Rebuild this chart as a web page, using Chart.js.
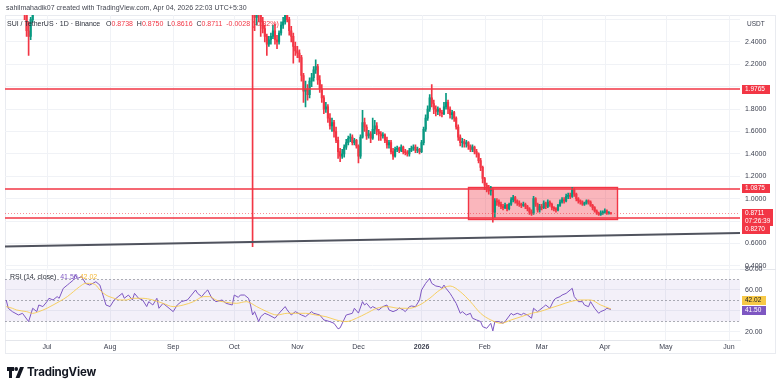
<!DOCTYPE html>
<html><head><meta charset="utf-8">
<script src="https://cdn.jsdelivr.net/npm/chart.js@4.4.1/dist/chart.umd.min.js"></script>
<style>
html,body{margin:0;padding:0;background:#fff}
body{width:783px;height:388px;position:relative;overflow:hidden;font-family:"Liberation Sans",Arial,sans-serif}
canvas{position:absolute;left:0}
#c1{top:0}#c2{top:255px}
.t{position:absolute;white-space:nowrap;font-size:7px;line-height:8px;color:#434651}
.r{color:#F23645}
.frame{position:absolute;left:5px;top:15px;width:771px;height:339px;border:1px solid #e9ebf0;box-sizing:border-box;pointer-events:none}
.sep{position:absolute;left:5px;top:269px;width:771px;height:1px;background:#e4e6eb}
.logo{position:absolute;left:7px;top:365px;display:flex;align-items:center;gap:3px;font-family:Inter,"Liberation Sans",sans-serif;font-weight:700;font-size:11.5px;color:#131722;letter-spacing:-0.2px}
</style></head><body>
<div class="frame"></div>
<div class="sep"></div>
<canvas id="c1" width="783" height="278" style="width:783px;height:278px"></canvas>
<canvas id="c2" width="783" height="100" style="width:783px;height:100px"></canvas>
<div class="t" style="left:6px;top:4px">sahilmahadik07 created with TradingView.com, Apr 04, 2026 22:03 UTC+5:30</div>
<div class="t" style="left:7px;top:20px;color:#2a2e39">SUI / TetherUS · 1D · Binance&nbsp;&nbsp; O<span class="r">0.8738</span>&nbsp; H<span class="r">0.8750</span>&nbsp; L<span class="r">0.8616</span>&nbsp; C<span class="r">0.8711</span>&nbsp;&nbsp;<span class="r">-0.0028 (-0.32%)</span></div>
<div class="t" style="left:10px;top:273px;color:#2a2e39">RSI (14, close)&nbsp; <span style="color:#7E57C2">41.50</span>&nbsp;<span style="color:#F5B93A">42.02</span></div>
<div class="logo"><svg width="17" height="11" viewBox="0 0 17 11"><path d="M0 0h7v4H5v7H2V4H0z" fill="#131722"/><circle cx="9.2" cy="2" r="1.9" fill="#131722"/><path d="M13 0h4l-4.5 11H8.6z" fill="#131722"/></svg><span>TradingView</span></div>
<script>
// ---------------- DATA ----------------
const firstDate = '2025-06-10';
const firstOpen = 3.26;
const close = [
 3.22,3.18,3.05,2.98,3.00,3.02,3.06,2.92,2.88,2.84,2.66,2.50,2.45,2.60,2.75,2.80,2.76,2.78,2.80,2.84,2.86,
 2.90,2.95,2.98,2.90,2.92,2.95,2.98,3.05,3.20,3.40,3.45,3.48,3.60,3.85,4.00,3.95,4.05,3.95,3.90,3.85,3.95,4.00,3.90,4.00,4.05,3.98,4.10,3.95,3.75,3.60,3.55,
 3.50,3.45,3.55,3.65,3.70,3.75,3.65,3.75,3.70,3.80,3.75,3.85,3.90,3.80,3.78,3.75,3.70,3.60,3.65,3.55,3.60,3.70,3.55,3.60,3.45,3.50,3.45,3.42,3.38,3.35,3.30,
 3.25,3.30,3.35,3.38,3.40,3.42,3.48,3.55,3.62,3.70,3.65,3.62,3.68,3.70,3.62,3.58,3.55,3.50,3.45,3.42,3.40,3.35,3.30,3.32,3.25,3.28,3.25,3.20,3.25,3.20,
 3.35,3.40,3.42,3.45,3.48,3.50,3.45,3.42,3.40,
 2.72,2.62,2.70,2.66,2.58,2.52,2.45,2.38,2.42,2.45,2.50,2.42,2.40,2.48,2.55,2.58,2.64,2.60,2.50,2.45,2.36,2.32,
 2.30,2.26,2.10,1.96,1.98,1.93,2.05,2.08,2.15,2.18,2.06,1.98,1.90,1.80,1.82,1.72,1.65,1.68,1.60,1.52,1.42,1.38,1.40,1.46,1.50,1.54,1.55,1.50,1.52,1.47,
 1.38,1.55,1.68,1.64,1.56,1.58,1.54,1.62,1.65,1.60,1.58,1.56,1.57,1.52,1.48,1.50,1.42,1.38,1.44,1.45,1.43,1.46,1.42,1.41,1.40,1.43,1.45,1.46,1.43,1.44,1.42,
 1.50,1.62,1.72,1.80,1.90,1.85,1.80,1.78,1.80,1.77,1.76,1.82,1.86,1.80,1.75,1.77,1.72,1.64,1.55,1.50,1.51,1.49,1.50,1.47,1.44,1.46,1.42,1.40,1.34,1.28,1.18,
 1.12,1.10,1.07,1.08,0.88,0.98,0.97,0.95,0.93,0.92,0.94,0.91,0.95,0.99,1.01,0.98,0.96,0.95,0.94,0.95,0.93,0.91,0.88,0.87,1.00,0.95,0.90,0.93,
 0.92,0.96,0.93,0.97,0.95,0.92,0.91,0.90,0.94,0.97,0.99,0.98,1.02,1.03,1.02,1.08,1.04,1.00,0.98,0.97,0.95,0.96,0.98,0.97,0.94,0.92,0.89,0.87,0.86,0.87,0.88,
 0.89,0.87,0.8738,0.8711
];
const high = [
 3.30,3.26,3.20,3.08,3.05,3.07,3.10,3.08,2.96,2.92,2.86,2.70,2.58,2.62,2.78,2.85,2.83,2.82,2.84,2.88,2.90,
 2.93,2.98,3.02,3.00,2.96,2.98,3.02,3.08,3.25,3.45,3.52,3.55,3.66,3.90,4.10,4.08,4.12,4.10,4.00,3.95,4.00,4.08,4.05,4.05,4.12,4.10,4.15,4.15,3.98,3.80,3.65,
 3.62,3.56,3.60,3.70,3.76,3.80,3.80,3.80,3.80,3.86,3.85,3.90,3.98,3.95,3.85,3.82,3.78,3.72,3.70,3.68,3.65,3.75,3.72,3.66,3.62,3.55,3.55,3.50,3.46,3.42,3.40,
 3.35,3.34,3.40,3.42,3.45,3.47,3.52,3.60,3.68,3.75,3.74,3.70,3.72,3.76,3.74,3.66,3.62,3.58,3.54,3.50,3.46,3.44,3.40,3.38,3.36,3.33,3.32,3.28,3.30,3.30,
 3.40,3.45,3.48,3.52,3.55,3.58,3.56,3.50,3.48,
 3.48,2.82,2.76,2.75,2.68,2.62,2.55,2.47,2.45,2.48,2.55,2.56,2.46,2.50,2.58,2.62,2.68,2.72,2.62,2.54,2.48,2.40,
 2.36,2.33,2.28,2.12,2.05,2.02,2.08,2.12,2.18,2.24,2.20,2.10,2.02,1.92,1.86,1.84,1.76,1.72,1.70,1.64,1.55,1.45,1.44,1.48,1.53,1.56,1.58,1.57,1.54,1.53,
 1.48,1.57,1.79,1.72,1.66,1.61,1.60,1.72,1.70,1.68,1.62,1.60,1.59,1.58,1.55,1.52,1.52,1.45,1.46,1.47,1.46,1.48,1.47,1.44,1.43,1.45,1.47,1.48,1.48,1.46,1.45,
 1.52,1.64,1.75,1.83,1.93,2.02,1.88,1.83,1.82,1.81,1.79,1.86,1.94,1.88,1.82,1.79,1.78,1.73,1.66,1.57,1.54,1.53,1.52,1.51,1.48,1.48,1.47,1.44,1.41,1.36,1.29,
 1.19,1.14,1.12,1.11,1.09,1.00,1.00,0.99,0.97,0.95,0.96,0.95,0.96,1.01,1.03,1.02,0.99,0.98,0.96,0.97,0.96,0.94,0.92,0.90,1.02,1.01,0.96,0.95,
 0.95,0.98,0.97,0.99,0.98,0.96,0.93,0.92,0.95,0.99,1.01,1.01,1.04,1.05,1.05,1.10,1.09,1.05,1.01,0.99,0.98,0.97,0.99,0.99,0.98,0.95,0.93,0.90,0.88,0.89,0.89,
 0.91,0.90,0.885,0.875
];
const low = [
 3.15,3.12,3.00,2.92,2.94,2.96,2.98,2.88,2.84,2.80,2.60,2.45,2.28,2.42,2.58,2.72,2.72,2.72,2.74,2.77,2.80,
 2.82,2.86,2.90,2.86,2.86,2.88,2.92,2.94,3.02,3.18,3.36,3.40,3.45,3.58,3.80,3.88,3.90,3.88,3.82,3.78,3.80,3.90,3.85,3.86,3.95,3.92,3.95,3.90,3.70,3.55,3.45,
 3.42,3.38,3.40,3.50,3.60,3.66,3.60,3.62,3.65,3.66,3.70,3.72,3.82,3.75,3.72,3.70,3.64,3.55,3.56,3.50,3.52,3.56,3.50,3.52,3.40,3.42,3.40,3.36,3.32,3.30,3.25,
 3.18,3.20,3.26,3.30,3.34,3.36,3.40,3.45,3.52,3.58,3.60,3.56,3.58,3.64,3.58,3.52,3.50,3.45,3.40,3.36,3.35,3.30,3.25,3.26,3.20,3.22,3.20,3.14,3.16,3.15,
 3.18,3.30,3.35,3.38,3.40,3.42,3.38,3.35,3.32,
 0.57,2.50,2.55,2.58,2.45,2.48,2.40,2.28,2.36,2.38,2.43,2.38,2.34,2.38,2.46,2.52,2.56,2.58,2.46,2.40,2.21,2.28,
 2.26,2.22,2.05,1.86,1.82,1.88,1.90,2.00,2.05,2.12,2.02,1.95,1.86,1.76,1.77,1.68,1.62,1.60,1.55,1.50,1.36,1.33,1.36,1.37,1.44,1.48,1.51,1.48,1.48,1.45,
 1.32,1.36,1.54,1.60,1.53,1.54,1.50,1.53,1.58,1.57,1.52,1.52,1.54,1.50,1.45,1.45,1.40,1.35,1.37,1.42,1.41,1.42,1.40,1.39,1.38,1.38,1.42,1.43,1.41,1.41,1.40,
 1.41,1.48,1.60,1.70,1.78,1.82,1.76,1.74,1.75,1.74,1.73,1.75,1.80,1.76,1.72,1.71,1.69,1.62,1.52,1.47,1.46,1.46,1.46,1.44,1.42,1.42,1.40,1.37,1.32,1.25,1.14,
 1.08,1.06,1.04,1.03,0.79,0.83,0.94,0.93,0.91,0.90,0.91,0.89,0.90,0.94,0.97,0.96,0.94,0.93,0.92,0.93,0.91,0.89,0.86,0.85,0.86,0.93,0.88,0.88,
 0.90,0.91,0.91,0.92,0.93,0.90,0.89,0.88,0.89,0.93,0.96,0.96,0.97,1.00,1.00,1.01,1.02,0.98,0.96,0.95,0.94,0.94,0.95,0.95,0.93,0.90,0.88,0.86,0.85,0.85,0.86,
 0.87,0.86,0.862,0.8616
];

const rsiDate = ['2025-06-11','2025-06-12','2025-06-14','2025-06-17','2025-06-19','2025-06-22','2025-06-23','2025-06-24','2025-06-26','2025-06-27','2025-06-29',
 '2025-07-01','2025-07-02','2025-07-04','2025-07-06','2025-07-07','2025-07-09','2025-07-11','2025-07-12','2025-07-14','2025-07-15','2025-07-16','2025-07-18','2025-07-20','2025-07-22','2025-07-25','2025-07-27','2025-07-29','2025-07-30',
 '2025-08-01','2025-08-03','2025-08-05','2025-08-07','2025-08-08','2025-08-10','2025-08-12','2025-08-13','2025-08-15','2025-08-17','2025-08-19','2025-08-20','2025-08-22','2025-08-24','2025-08-25','2025-08-27','2025-08-29','2025-08-30',
 '2025-09-01','2025-09-03','2025-09-05','2025-09-08','2025-09-10','2025-09-12','2025-09-13','2025-09-15','2025-09-17','2025-09-18','2025-09-20','2025-09-22','2025-09-25','2025-09-27','2025-09-30',
 '2025-10-01','2025-10-03','2025-10-04','2025-10-06','2025-10-08','2025-10-09','2025-10-10','2025-10-11','2025-10-13','2025-10-14','2025-10-16','2025-10-18','2025-10-21','2025-10-23','2025-10-26','2025-10-27','2025-10-29','2025-10-31',
 '2025-11-03','2025-11-05','2025-11-08','2025-11-09','2025-11-12','2025-11-14','2025-11-17','2025-11-19','2025-11-21','2025-11-22','2025-11-25','2025-11-28','2025-11-29',
 '2025-12-01','2025-12-03','2025-12-04','2025-12-05','2025-12-07','2025-12-08','2025-12-11','2025-12-13','2025-12-15','2025-12-16','2025-12-18','2025-12-20','2025-12-21','2025-12-23','2025-12-24','2025-12-26','2025-12-27','2025-12-29','2025-12-31',
 '2026-01-01','2026-01-03','2026-01-05','2026-01-06','2026-01-08','2026-01-10','2026-01-11','2026-01-12','2026-01-13','2026-01-15','2026-01-16','2026-01-18','2026-01-20','2026-01-21','2026-01-23','2026-01-25','2026-01-26','2026-01-28','2026-01-30','2026-01-31',
 '2026-02-02','2026-02-04','2026-02-05','2026-02-06','2026-02-08','2026-02-10','2026-02-11','2026-02-14','2026-02-15','2026-02-17','2026-02-19','2026-02-20','2026-02-22','2026-02-24','2026-02-25','2026-02-27','2026-02-28',
 '2026-03-02','2026-03-03','2026-03-05','2026-03-07','2026-03-08','2026-03-10','2026-03-11','2026-03-13','2026-03-15','2026-03-16','2026-03-17','2026-03-19','2026-03-21','2026-03-22','2026-03-24','2026-03-25','2026-03-27','2026-03-29','2026-03-30',
 '2026-04-01','2026-04-02','2026-04-04'];
const rsiValue = [50.5,42.6,39.4,36.2,37.8,29.9,36.2,42.6,39.4,45.7,44.2,
 48.9,52.1,50.5,53.7,52.1,61.5,64.7,66.3,69.5,74.3,71.0,72.7,66.3,64.7,67.9,64.7,52.1,45.7,
 44.2,50.5,53.7,56.8,52.1,55.2,50.5,56.8,52.1,50.5,44.2,48.9,45.7,52.1,42.6,47.3,44.2,42.6,
 39.4,45.7,48.9,50.5,55.2,60.0,56.8,53.7,58.4,60.0,52.1,48.9,50.5,47.3,45.7,
 55.2,53.0,55.2,55.2,52.1,45.7,36.2,39.4,29.9,34.6,37.8,36.2,33.1,37.8,44.2,41.0,36.2,39.4,
 36.2,34.6,39.4,37.8,36.2,31.5,29.9,28.3,23.0,24.0,36.2,37.8,42.6,
 38.0,48.9,45.7,47.3,42.6,44.2,41.0,44.2,45.7,41.0,39.4,41.0,43.0,41.0,39.4,44.1,44.8,44.1,50.5,
 60.0,66.3,71.1,66.3,63.8,63.1,61.6,64.7,61.6,56.8,53.7,47.3,37.8,39.4,36.2,37.8,33.1,31.5,29.9,25.1,
 23.5,28.3,21.0,29.9,29.9,28.3,29.9,37.8,36.2,37.8,36.2,37.8,36.2,33.1,42.6,39.4,41.0,
 44.1,45.7,42.6,50.5,52.1,53.7,55.2,56.8,60.0,61.6,53.7,48.9,48.9,45.7,44.1,48.9,42.6,37.8,39.4,
 41.0,42.6,41.5];

const maDate = ['2025-06-11','2025-06-14','2025-06-16','2025-06-21','2025-06-24','2025-06-27','2025-07-01','2025-07-04','2025-07-07','2025-07-11','2025-07-14','2025-07-17','2025-07-20','2025-07-22','2025-07-25','2025-07-27','2025-07-30',
 '2025-08-03','2025-08-06','2025-08-09','2025-08-12','2025-08-17','2025-08-22','2025-08-27','2025-09-01','2025-09-06','2025-09-11','2025-09-16','2025-09-19','2025-09-22','2025-09-27',
 '2025-10-02','2025-10-07','2025-10-12','2025-10-17','2025-10-22','2025-10-27','2025-10-31','2025-11-05','2025-11-10','2025-11-15','2025-11-20','2025-11-25','2025-11-30',
 '2025-12-05','2025-12-10','2025-12-15','2025-12-21','2025-12-26','2025-12-31','2026-01-05','2026-01-10','2026-01-15','2026-01-20','2026-01-25','2026-01-30',
 '2026-02-04','2026-02-09','2026-02-14','2026-02-19','2026-02-24','2026-02-28','2026-03-05','2026-03-10','2026-03-15','2026-03-20','2026-03-25','2026-03-30','2026-04-04'];
const maValue = [44.2,42.6,41.0,39.4,37.8,39.4,42.6,45.7,48.9,53.7,58.4,63.1,66.3,66.3,64.7,60.0,55.2,
 52.1,50.5,50.5,52.1,52.1,50.5,47.3,44.2,45.7,48.9,53.7,53.7,50.5,48.3,
 47.3,48.9,44.2,39.4,36.2,37.8,37.8,37.8,36.2,34.6,31.5,29.9,33.1,
 37.8,42.6,44.2,42.6,42.6,45.7,52.1,60.0,63.8,58.4,48.9,37.8,
 31.5,28.3,31.5,34.6,37.8,39.4,42.6,45.7,48.9,50.5,50.5,45.7,42.02];

const monthTicks = ['2025-07-01','2025-08-01','2025-09-01','2025-10-01','2025-11-01','2025-12-01','2026-01-01','2026-02-01','2026-03-01','2026-04-01','2026-05-01','2026-06-01'];
const monthNames = ['Jul','Aug','Sep','Oct','Nov','Dec','2026','Feb','Mar','Apr','May','Jun'];
const priceTicks = [0.4,0.6,0.8,1.0,1.2,1.4,1.6,1.8,2.0,2.2,2.4,2.6];
const hiddenPriceLabels = [0.8,2.0,2.6];
const rsiTicks = [20,40,60,80];
const levels = [1.9765, 1.0875, 0.8270];
const lastPrice = 0.8711;
const countdown = '07:26:39';
const lastRsi = 41.50, lastMa = 42.02;
const zone = {from:'2026-01-24', to:'2026-04-07', top:1.10, bottom:0.822};
const trend = {from:['2025-06-10',0.572], to:['2026-06-06',0.693]};
const viewFrom = '2025-06-10', viewTo = '2026-06-06';
const priceMin = 0.373, priceMax = 2.641, rsiMin = 12.38, rsiMax = 80;

// ---------------- HELPERS ----------------
const DAY0 = Date.UTC(2025,6,1);
function dayOf(s){const [y,m,d]=s.split('-').map(Number);return (Date.UTC(y,m-1,d)-DAY0)/86400000;}
if (close.length!==high.length || close.length!==low.length) throw new Error('len '+close.length+' '+high.length+' '+low.length);
if (rsiDate.length!==rsiValue.length || maDate.length!==maValue.length) throw new Error('rsi len');

const UP='#089981', DOWN='#F23645';
const X_MIN = dayOf(viewFrom)+0.4, X_MAX = dayOf(viewTo)+0.4;
const start = dayOf(firstDate);
const wick=[], body=[], col=[];
for(let i=0;i<close.length;i++){
  const o = i===0?firstOpen:close[i-1], c=close[i];
  let lo=Math.min(o,c), hi=Math.max(o,c);
  if(hi-lo<0.003) hi=lo+0.003;
  wick.push({x:start+i, y:[low[i],high[i]]});
  body.push({x:start+i, y:[lo,hi]});
  col.push(c>=o?UP:DOWN);
}
const FONT='"Liberation Sans", Arial, sans-serif';
const TXT='#3d4150', GRID='#f0f2f6';
const mTickVals = monthTicks.map(dayOf);

function tag(ctx, x0, yc, w, lines, bg, fg){
  const h = 8*lines.length+1;
  ctx.fillStyle=bg; ctx.fillRect(x0, Math.round(yc-4.5), w, h);
  ctx.fillStyle=fg; ctx.font='6.5px '+FONT; ctx.textAlign='left'; ctx.textBaseline='middle';
  lines.forEach((s,i)=>ctx.fillText(s, x0+3, Math.round(yc-4.5)+4.5+i*8));
}

const overlayA = {
  id:'overlayA',
  beforeDatasetsDraw(chart){
    const {ctx, chartArea:a, scales:{x,y}} = chart;
    ctx.save();
    ctx.beginPath(); ctx.rect(a.left,a.top,a.right-a.left,a.bottom-a.top); ctx.clip();
    ctx.strokeStyle=GRID; ctx.lineWidth=1;
    mTickVals.forEach(v=>{const p=Math.round(x.getPixelForValue(v))+.5; ctx.beginPath(); ctx.moveTo(p,a.top); ctx.lineTo(p,a.bottom); ctx.stroke();});
    const x1=Math.round(x.getPixelForValue(dayOf(zone.from))), x2=Math.round(x.getPixelForValue(dayOf(zone.to)));
    const y1=Math.round(y.getPixelForValue(zone.top)), y2=Math.round(y.getPixelForValue(zone.bottom));
    ctx.fillStyle='rgba(242,54,69,0.36)'; ctx.fillRect(x1,y1,x2-x1,y2-y1);
    ctx.strokeStyle='#F23645'; ctx.lineWidth=1.4; ctx.strokeRect(x1+.5,y1+.5,x2-x1,y2-y1);
    ctx.restore();
  },
  afterDatasetsDraw(chart){
    const {ctx, chartArea:a, scales:{x,y}} = chart;
    ctx.save();
    ctx.beginPath(); ctx.rect(a.left,a.top,a.right-a.left,a.bottom-a.top); ctx.clip();
    let yy=Math.round(y.getPixelForValue(lastPrice))+.5;
    ctx.strokeStyle='rgba(242,54,69,0.55)'; ctx.lineWidth=1; ctx.setLineDash([1,2]);
    ctx.beginPath(); ctx.moveTo(a.left,yy); ctx.lineTo(a.right,yy); ctx.stroke();
    ctx.setLineDash([]);
    ctx.strokeStyle='#F23645'; ctx.lineWidth=1.6;
    levels.forEach(v=>{const p=Math.round(y.getPixelForValue(v)); ctx.beginPath(); ctx.moveTo(a.left,p); ctx.lineTo(a.right,p); ctx.stroke();});
    const X0=x.getPixelForValue(dayOf(trend.from[0])), Y0=y.getPixelForValue(trend.from[1]);
    const X1=x.getPixelForValue(dayOf(trend.to[0])), Y1=y.getPixelForValue(trend.to[1]);
    const k=(Y1-Y0)/(X1-X0);
    ctx.strokeStyle='#50535e'; ctx.lineWidth=1.8;
    ctx.beginPath(); ctx.moveTo(a.left, Y0+k*(a.left-X0)); ctx.lineTo(a.right, Y0+k*(a.right-X0)); ctx.stroke();
    ctx.restore();
  },
  afterDraw(chart){
    const {ctx, scales:{y}} = chart;
    ctx.save();
    ctx.fillStyle=TXT; ctx.font='6.5px '+FONT; ctx.textAlign='left'; ctx.textBaseline='middle';
    ctx.fillText('USDT', 747, 24);
    tag(ctx, 742, y.getPixelForValue(levels[0]), 28, [levels[0].toFixed(4)], DOWN, '#fff');
    tag(ctx, 742, y.getPixelForValue(levels[1]), 28, [levels[1].toFixed(4)], DOWN, '#fff');
    tag(ctx, 742, y.getPixelForValue(lastPrice), 31, [lastPrice.toFixed(4), countdown], DOWN, '#fff');
    tag(ctx, 742, y.getPixelForValue(levels[2])+12, 28, [levels[2].toFixed(4)], DOWN, '#fff');
    ctx.restore();
  }
};

const overlayB = {
  id:'overlayB',
  beforeDatasetsDraw(chart){
    const {ctx, chartArea:a, scales:{y}} = chart;
    ctx.save();
    const y70=y.getPixelForValue(70), y30=y.getPixelForValue(30), y50=y.getPixelForValue(50);
    ctx.fillStyle='rgba(126,87,194,0.09)'; ctx.fillRect(a.left,y70,a.right-a.left,y30-y70);
    ctx.strokeStyle='rgba(120,123,134,0.6)'; ctx.lineWidth=1; ctx.setLineDash([2,2]);
    [y70,y50,y30].forEach(p=>{const q=Math.round(p)+.5; ctx.beginPath(); ctx.moveTo(a.left,q); ctx.lineTo(a.right,q); ctx.stroke();});
    ctx.restore();
  },
  afterDraw(chart){
    const {ctx, scales:{y}} = chart;
    ctx.save();
    tag(ctx, 742, y.getPixelForValue(lastMa)-8.4, 24, [lastMa.toFixed(2)], '#F7C948', '#131722');
    tag(ctx, 742, y.getPixelForValue(lastRsi)+0.6, 24, [lastRsi.toFixed(2)], '#7E57C2', '#fff');
    ctx.restore();
  }
};

Chart.defaults.font.family = FONT;

new Chart(document.getElementById('c1'), {
  type:'bar',
  data:{datasets:[
    {data:wick, backgroundColor:col, barThickness:1, grouped:false, borderWidth:0, clip:0},
    {data:body, backgroundColor:col, barThickness:1.5, grouped:false, borderWidth:0, clip:0}
  ]},
  options:{
    responsive:false, maintainAspectRatio:false, animation:false, events:[],
    layout:{padding:{left:5,right:7,top:15,bottom:3}},
    plugins:{legend:{display:false}, tooltip:{enabled:false}},
    scales:{
      x:{type:'linear', min:X_MIN, max:X_MAX, offset:false, display:false},
      y:{type:'linear', position:'right', min:priceMin, max:priceMax, bounds:'data', grace:0, beginAtZero:false,
         afterDataLimits: s => { s.min=priceMin; s.max=priceMax; },
         afterBuildTicks: s => { s.ticks = priceTicks.map(v=>({value:v})); s.min=priceMin; s.max=priceMax; },
         afterFit: s => { s.width=36; },
         ticks:{padding:5, color:TXT, font:{size:7}, callback:v=> hiddenPriceLabels.some(h=>Math.abs(v-h)<1e-6) ? '' : Number(v).toFixed(4)},
         grid:{color:GRID, drawTicks:false}, border:{display:false}}
    }
  },
  plugins:[overlayA]
});

new Chart(document.getElementById('c2'), {
  type:'line',
  data:{datasets:[
    {data:maDate.map((d,i)=>({x:dayOf(d), y:maValue[i]})), borderColor:'rgba(247,201,72,0.85)', borderWidth:1, pointRadius:0, cubicInterpolationMode:'monotone'},
    {data:rsiDate.map((d,i)=>({x:dayOf(d), y:rsiValue[i]})), borderColor:'#7E57C2', borderWidth:1, pointRadius:0, tension:0}
  ]},
  options:{
    responsive:false, maintainAspectRatio:false, animation:false, events:[],
    layout:{padding:{left:5,right:7,top:14,bottom:0}},
    plugins:{legend:{display:false}, tooltip:{enabled:false}},
    scales:{
      x:{type:'linear', min:X_MIN, max:X_MAX, offset:false,
        afterBuildTicks: s => { s.ticks = mTickVals.map(v=>({value:v})); },
        afterFit:s=>{s.height=15;},
        grid:{color:GRID, drawTicks:false, offset:false},
        border:{display:true, color:'#e4e6eb'},
        ticks:{padding:3, maxRotation:0, autoSkip:false, color:TXT,
          font: c => ({size:7, weight: (c.tick && c.tick.value===dayOf('2026-01-01')) ? 'bold' : 'normal'}),
          callback: v => { const i=mTickVals.indexOf(v); return i>=0?monthNames[i]:''; }}
      },
      y:{position:'right', min:rsiMin, max:rsiMax, bounds:'data',
         afterBuildTicks: s => { s.ticks = rsiTicks.map(v=>({value:v})); s.min=rsiMin; s.max=rsiMax; },
         afterFit: s => { s.width=36; },
         ticks:{padding:5, color:TXT, font:{size:7}, callback:v=> v===40 ? '' : Number(v).toFixed(2)},
         grid:{color:GRID, drawTicks:false}, border:{display:false}}
    }
  },
  plugins:[overlayB]
});
</script>
</body></html>
